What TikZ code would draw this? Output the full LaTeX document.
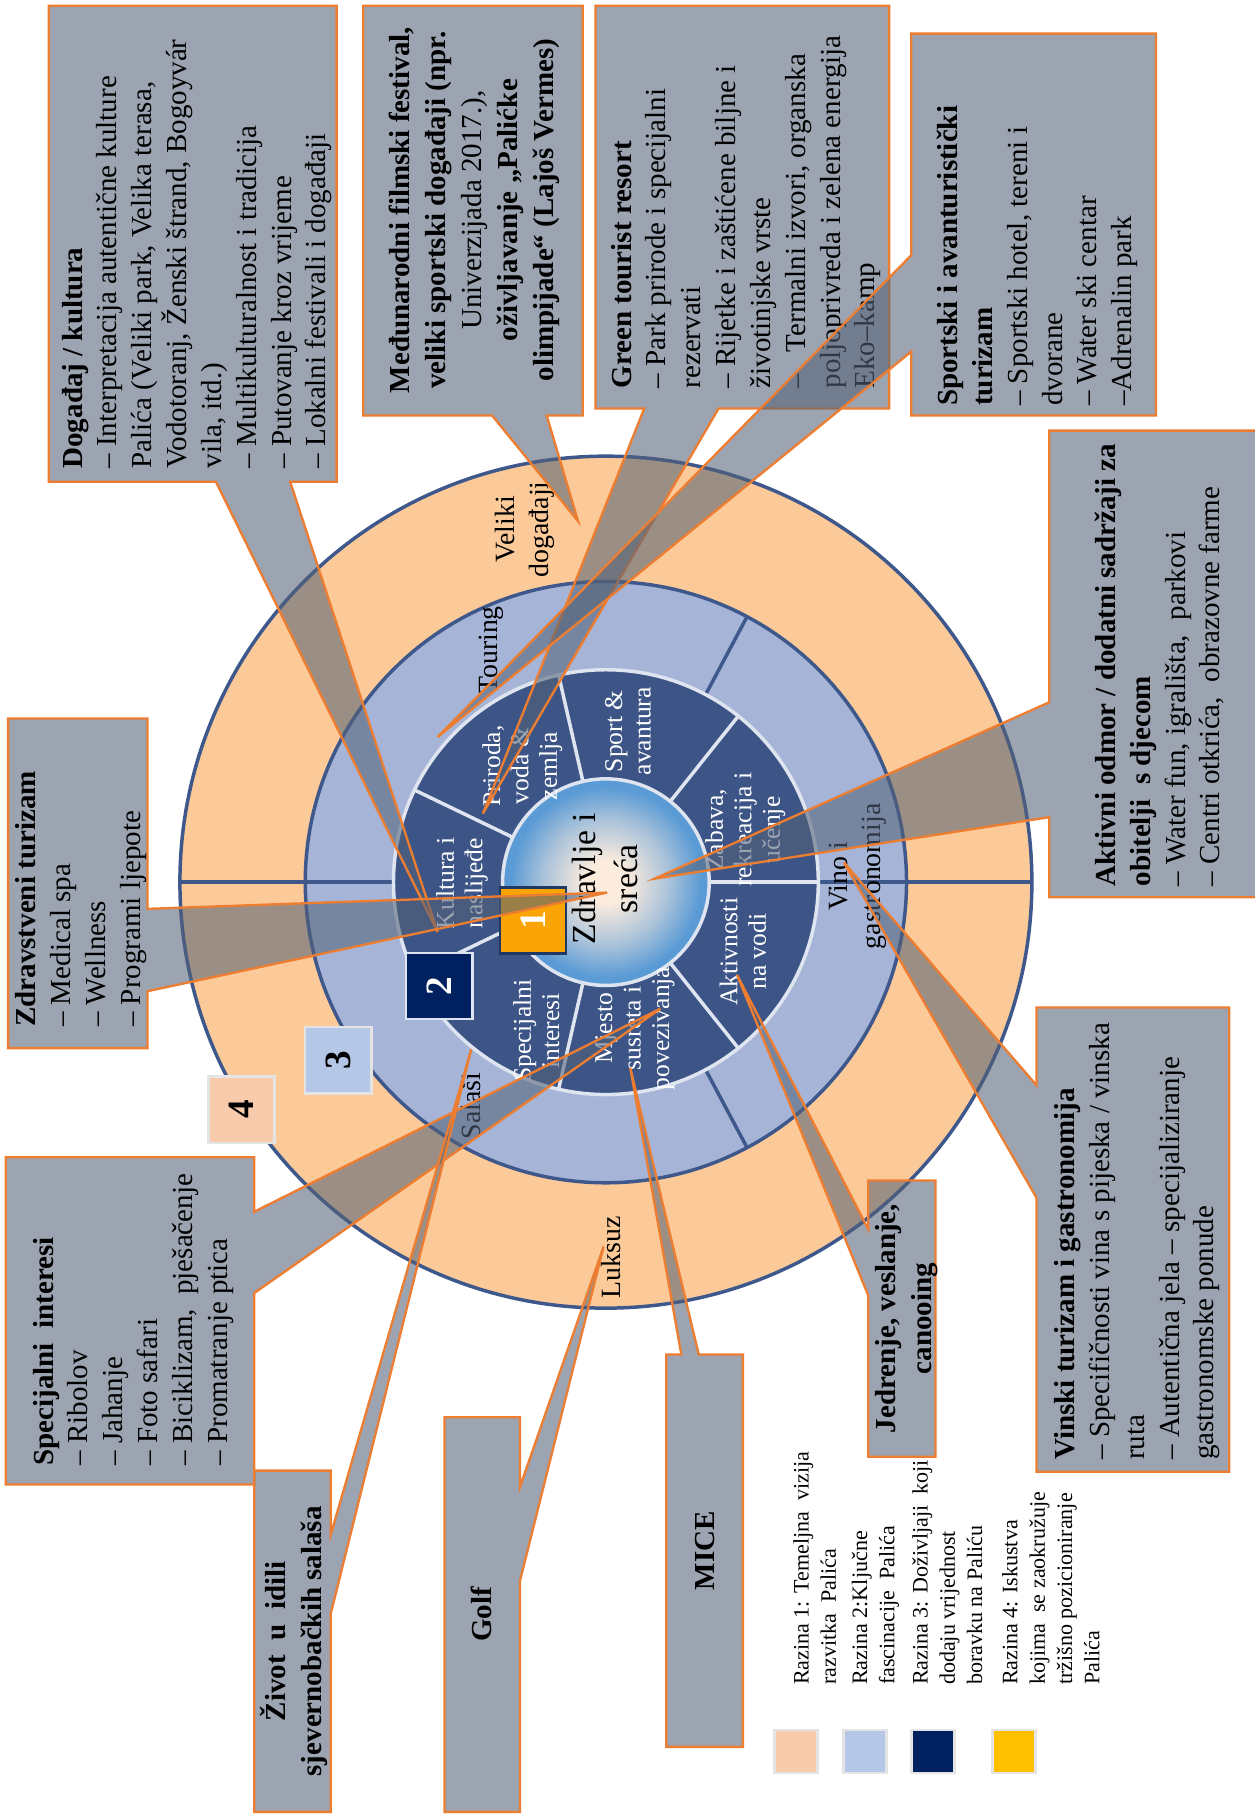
\documentclass[tikz,border=0pt]{standalone}
\usepackage{fontspec}
\setmainfont{Liberation Serif}
\usetikzlibrary{calc}
\definecolor{cOr}{RGB}{252,202,153}
\definecolor{cLb}{RGB}{166,181,215}
\definecolor{cDk}{RGB}{61,85,134}
\definecolor{cLine}{RGB}{62,88,140}
\definecolor{cCall}{RGB}{84,98,120}
\definecolor{cBord}{RGB}{237,125,49}
\definecolor{cCen}{RGB}{252,236,222}
\definecolor{cEdge}{RGB}{91,155,213}
\definecolor{cWhiteLn}{RGB}{222,229,240}
\definecolor{cOne}{RGB}{250,165,5}
\definecolor{cNavy}{RGB}{0,32,96}
\definecolor{cThree}{RGB}{180,199,231}
\definecolor{cFour}{RGB}{248,203,173}
\definecolor{cYel}{RGB}{255,192,0}
\definecolor{cNavyLn}{RGB}{31,56,100}
\definecolor{cGrayLn}{RGB}{228,228,228}
\pgfdeclareradialshading{ctrshade}{\pgfpoint{0bp}{0bp}}{color(0bp)=(cCen); color(5bp)=(cCen); color(15bp)=(cEdge!50!cCen); color(23bp)=(cEdge); color(25bp)=(cEdge); color(50bp)=(cEdge)}
\tikzset{
  callout/.style={fill=cCall, fill opacity=0.575, draw=cBord, line width=1pt, line join=miter},
  ctext/.style={rotate=90, anchor=north west, align=left, inner sep=0pt, font=\fontsize{12.5}{15}\selectfont},
  cctext/.style={rotate=90, anchor=center, align=center, inner sep=0pt, font=\fontsize{12.5}{15.5}\selectfont\bfseries},
  ringlbl/.style={rotate=90, align=center, inner sep=0pt, font=\fontsize{12}{14.5}\selectfont},
  seglbl/.style={rotate=90, align=center, inner sep=0pt, text=white, font=\fontsize{11}{12.25}\selectfont},
  numbox/.style={rotate=90, minimum size=28.5pt, inner sep=0pt, line width=1pt, font=\fontsize{16}{18}\selectfont\bfseries},
  legsq/.style={minimum size=18.5pt, inner sep=0pt, draw=cGrayLn, line width=1.2pt},
  legtext/.style={rotate=90, anchor=north west, align=left, inner sep=0pt, font=\fontsize{9.5}{11.75}\selectfont},
  ringline/.style={draw=cLine, line width=1.5pt},
  segline/.style={draw=cWhiteLn, line width=1.5pt}
}
\begin{document}
\begin{tikzpicture}[x=0.5pt,y=-0.5pt]
\useasboundingbox (0,0) rectangle (1081,1568);
\fill[white] (0,0) rectangle (1081,1568);
\coordinate (C) at (522,760);
% rings
\fill[cOr] (C) circle[radius=367];
\fill[cLb] (C) circle[radius=259];
\draw[ringline] (C) circle[radius=367];
\draw[ringline] (C) circle[radius=259];
\draw[ringline] ($(C)+(-367,0)$) -- ($(C)+(-183,0)$);
\draw[ringline] ($(C)+(367,0)$) -- ($(C)+(183,0)$);
\draw[ringline] ($(C)+(-62:183)$) -- ($(C)+(-62:259)$);
\draw[ringline] ($(C)+(62:183)$) -- ($(C)+(62:259)$);
\fill[cDk] (C) circle[radius=183];
\foreach \a in {0,51.43,102.86,154.29,205.71,257.14,308.57}{
  \draw[segline] ($(C)+(-\a:89)$) -- ($(C)+(-\a:183)$);
}
\draw[segline] (C) circle[radius=183];
\shade[shading=ctrshade] (C) circle[radius=89];
\draw[segline] (C) circle[radius=89];
% ring labels
\node[ringlbl] (lVel) at (452,456) {Veliki\\događaji};
\node[ringlbl] (lLuk) at (526,1083) {Luksuz};
\node[ringlbl] (lTou) at (423,560) {Touring};
\node[ringlbl] (lSal) at (406,953) {Salaši};
\node[ringlbl] (lVin) at (739,755) {Vino i\\gastronomija};
% segment labels
\node[seglbl] (sKul) at (398,761) {Kultura i\\naslijeđe};
\node[seglbl] (sPri) at (450,660) {Priroda,\\voda \&\\zemlja};
\node[seglbl] (sSpo) at (541,630) {Sport \&\\avantura};
\node[seglbl] (sZab) at (642,715) {Zabava,\\rekreacija i\\učenje};
\node[seglbl] (sAkv) at (640,820) {Aktivnosti\\na vodi};
\node[seglbl] (sMje) at (547,886) {Mjesto\\susreta i\\povezivanja};
\node[seglbl] (sSpc) at (462,888) {Specijalni\\interesi};
\node[rotate=90, align=center, inner sep=0pt, font=\fontsize{14.5}{18}\selectfont] (cen) at (521,757) {Zdravlje i\\sreća};
% number boxes
\node[numbox, fill=cOne, draw=cNavyLn, text=white] (n1) at (459,793) {1};
\node[numbox, fill=cNavy, draw=cWhiteLn, text=white] (n2) at (378.5,849.5) {2};
\node[numbox, fill=cThree, draw=cGrayLn, text=black] (n3) at (291.5,913.5) {3};
\node[numbox, fill=cFour, draw=cGrayLn, text=black] (n4) at (208,956) {4};
% tips
\coordinate (tDog) at (377,803);
\coordinate (tMed) at (498,449);
\coordinate (tGreen) at (416,701);
\coordinate (tSport) at (377,635);
\coordinate (tAkt) at (564,757);
\coordinate (tZdr) at (523,769);
\coordinate (tSpec) at (569,869);
\coordinate (tZiv) at (406,904);
\coordinate (tGolf) at (520,1074);
\coordinate (tMice) at (543,920);
\coordinate (tJed) at (635,840);
\coordinate (tVin) at (727,743);
% callouts
\draw[callout] (42,5) -- (290,5) -- (290,415) -- (250,415) -- (tDog) -- (186,415) -- (42,415) -- cycle;
\node[ctext] (xDog) at (53,404) {\textbf{Događaj / kultura}\\
– Interpretacija autentične kulture\\
Palića (Veliki park, Velika terasa,\\
Vodotoranj, Ženski štrand, Bogoyvár\\
vila, itd.)\\
– Multikulturalnost i tradicija\\
– Putovanje kroz vrijeme\\
– Lokalni festivali i događaji};
\draw[callout] (313,5) -- (502,5) -- (502,358) -- (471,358) -- (tMed) -- (424,358) -- (313,358) -- cycle;
\node[cctext] (xMed) at (409,181) {Međunarodni filmski festival,\\
veliki sportski događaji (npr.\\
\mdseries Univerzijada 2017.),\\
oživljavanje „Palićke\\
olimpijade“ (Lajoš Vermes)};
\draw[callout] (513,5) -- (766,5) -- (766,352) -- (619,352) -- (tGreen) -- (555,352) -- (513,352) -- cycle;
\node[ctext] (xGreen) at (526,335) {\textbf{Green tourist resort}\\
– Park prirode i specijalni\\
rezervati\\
– Rijetke i zaštićene biljne i\\
životinjske vrste\\
–\ \ \ Termalni izvori,\ organska\\
poljoprivreda i zelena energija\\
Eko–kamp};
\draw[callout] (785,29) -- (996,29) -- (996,358) -- (785,358) -- (785,303) -- (tSport) -- (785,220) -- cycle;
\node[ctext] (xSport) at (807,350) {\textbf{Sportski i avanturistički}\\
\textbf{turizam}\\
– Sportski hotel, tereni i\\
dvorane\\
– Water ski centar\\
–Adrenalin park};
\draw[callout] (904,371) -- (1083,371) -- (1083,773) -- (904,773) -- (904,704) -- (tAkt) -- (904,605) -- cycle;
\node[ctext] (xAkt) at (943,764) {\textbf{Aktivni odmor / dodatni sadržaji za}\\
\textbf{obitelji\ \ s djecom}\\
– Water fun, igrališta,\ \ parkovi\\
– Centri otkrića,\ \ obrazovne farme};
\draw[callout] (7,619) -- (127,619) -- (127,783) -- (tZdr) -- (127,854) -- (127,903) -- (7,903) -- cycle;
\node[ctext] (xZdr) at (13,885) {\textbf{Zdravstveni turizam}\\
– Medical spa\\
– Wellness\\
– Programi ljepote};
\draw[callout] (5,997) -- (219,997) -- (219,1044) -- (tSpec) -- (219,1114) -- (219,1279) -- (5,1279) -- cycle;
\node[ctext] (xSpec) at (28,1263) {\textbf{Specijalni\ \ interesi}\\
– Ribolov\\
– Jahanje\\
– Foto safari\\
– Biciklizam,\ \ pješačenje\\
– Promatranje ptica};
\draw[callout] (219,1267) -- (285,1267) -- (285,1322) -- (tZiv) -- (285,1390) -- (285,1561) -- (219,1561) -- cycle;
\node[cctext] (xZiv) at (253,1414) {Život\ \ u\ \ idili\\ sjevernobačkih salaša};
\draw[callout] (383,1221) -- (448,1221) -- (448,1281) -- (tGolf) -- (448,1362) -- (448,1561) -- (383,1561) -- cycle;
\node[cctext] (xGolf) at (415,1391) {Golf};
\draw[callout] (574,1167) -- (587,1167) -- (tMice) -- (602,1167) -- (640,1167) -- (640,1505) -- (574,1505) -- cycle;
\node[cctext] (xMice) at (607,1336) {MICE};
\draw[callout] (748,1017) -- (806,1017) -- (806,1255) -- (748,1255) -- (748,1116) -- (tJed) -- (748,1059) -- cycle;
\node[cctext] (xJed) at (781,1136) {Jedrenje, veslanje,\\ canooing};
\draw[callout] (893,868) -- (1059,868) -- (1059,1268) -- (893,1268) -- (893,1032) -- (tVin) -- (893,935) -- cycle;
\node[ctext] (xVin) at (908,1258) {\textbf{Vinski turizam i gastronomija}\\
– Specifičnosti vina s pijeska / vinska\\
ruta\\
– Autentična jela – specijaliziranje\\
gastronomske ponude};
% legend
\node[legsq, fill=cFour] (q1) at (686,1509) {};
\node[legsq, fill=cThree] (q2) at (745,1509) {};
\node[legsq, fill=cNavy] (q3) at (804,1509) {};
\node[legsq, fill=cYel] (q4) at (873.5,1509) {};
\node[legtext] (g1) at (683,1452) {Razina 1: Temeljna\ \ vizija\\ razvitka\ \ Palića};
\node[legtext] (g2) at (733.5,1452) {Razina 2:Ključne\\ fascinacije\ \ Palića};
\node[legtext] (g3) at (785.5,1452) {Razina 3: Doživljaji\ \ koji\\ dodaju vrijednost\\ boravku na Paliću};
\node[legtext] (g4) at (863,1452) {Razina 4: Iskustva\\ kojima\ \ se zaokružuje\\ tržišno pozicioniranje\\ Palića};
\end{tikzpicture}
\end{document}
